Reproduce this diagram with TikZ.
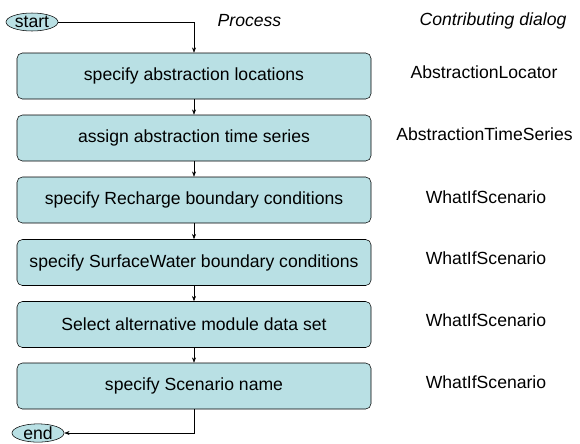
\documentclass[tikz,border=0pt]{standalone}
\usepackage{fontspec}
\setmainfont{Liberation Sans}
\usepackage{tikz}
\usetikzlibrary{arrows.meta}
\usetikzlibrary{shapes.geometric}
\definecolor{boxfill}{RGB}{185,224,228}

\begin{document}
\begin{tikzpicture}[x=0.75pt,y=-0.75pt,font=\fontsize{13.2}{15}\selectfont,
	step box/.style={rectangle,draw,fill=boxfill,rounded corners=4pt,minimum width=265.5pt,minimum height=34.5pt,inner sep=0pt},
	term/.style={ellipse,draw,fill=boxfill,minimum width=39pt,minimum height=13.5pt,inner sep=0pt},
	flow/.style={-{Stealth[length=4pt,width=3pt]}},
	dialog/.style={anchor=center}]
	
	\useasboundingbox (0,0) rectangle (580,443);
	
	\node[term] (start) at (32,22) {start};
	\node[term] (end) at (38,433) {end};
	
	\node[step box] (box1) at (194,76) {specify abstraction locations};
	\node[step box] (box2) at (194,138) {assign abstraction time series};
	\node[step box] (box3) at (194,200) {specify Recharge boundary conditions};
	\node[step box] (box4) at (194,262.5) {specify SurfaceWater boundary conditions};
	\node[step box] (box5) at (194,324.5) {Select alternative module data set};
	\node[step box] (box6) at (194,386) {specify Scenario name};
	
	\node (process) at (249.5,21) {\itshape Process};
	\node (contrib) at (493,21) {\itshape Contributing dialog};
	
	\node[dialog] (dlg1) at (484,72) {AbstractionLocator};
	\node[dialog] (dlg2) at (484.5,134) {AbstractionTimeSeries};
	\node[dialog] (dlg3) at (486,197) {WhatIfScenario};
	\node[dialog] (dlg4) at (486,258) {WhatIfScenario};
	\node[dialog] (dlg5) at (486,320) {WhatIfScenario};
	\node[dialog] (dlg6) at (486,382) {WhatIfScenario};
	
	\draw[flow] (start.east) -| (box1.north);
	\draw[flow] (box1) -- (box2);
	\draw[flow] (box2) -- (box3);
	\draw[flow] (box3) -- (box4);
	\draw[flow] (box4) -- (box5);
	\draw[flow] (box5) -- (box6);
	\draw[flow] (box6.south) |- (end.east);
\end{tikzpicture}
\end{document}
